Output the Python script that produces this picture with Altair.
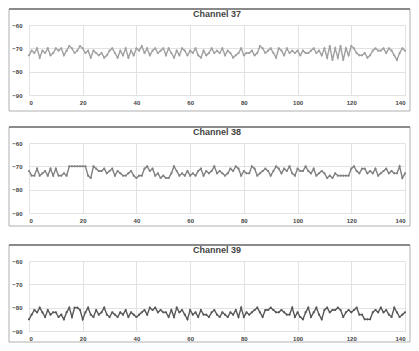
import altair as alt
import pandas as pd

x_vals = list(range(141))

ch37 = [
    -73, -71, -72, -70, -74, -71, -72, -70, -73, -72,
    -70, -71, -70, -73, -71, -69, -70, -72, -71, -69,
    -70, -72, -71, -74, -71, -72, -73, -72, -74, -73,
    -71, -70, -72, -74, -71, -73, -70, -74, -71, -73,
    -70, -71, -69, -72, -70, -73, -71, -70, -72, -71,
    -70, -73, -70, -72, -74, -71, -73, -70, -71, -73,
    -71, -72, -70, -73, -74, -71, -73, -72, -70, -72,
    -71, -72, -70, -73, -71, -72, -74, -73, -72, -70,
    -73, -72, -72, -71, -73, -72, -69, -70, -72, -71,
    -70, -72, -74, -70, -71, -73, -70, -72, -71, -72,
    -71, -73, -71, -72, -72, -71, -70, -72, -71, -73,
    -70, -74, -69, -75, -70, -74, -69, -75, -70, -73,
    -69, -70, -72, -73, -73, -72, -74, -73, -71, -70,
    -71, -71, -70, -72, -70, -71, -73, -75, -72, -70,
    -71]

ch38 = [
    -72, -74, -74, -71, -74, -73, -72, -74, -71, -74,
    -71, -74, -74, -73, -74, -70, -70, -70, -70, -70,
    -70, -70, -74, -75, -70, -71, -72, -72, -71, -73,
    -72, -71, -74, -72, -73, -74, -74, -73, -72, -74,
    -75, -74, -74, -71, -70, -72, -71, -74, -73, -75,
    -74, -75, -75, -73, -70, -72, -74, -73, -74, -72,
    -74, -73, -74, -72, -71, -74, -72, -73, -72, -70,
    -73, -72, -73, -74, -73, -71, -72, -70, -71, -74,
    -72, -73, -73, -70, -71, -74, -73, -72, -71, -72,
    -74, -72, -70, -71, -73, -71, -72, -70, -73, -74,
    -71, -72, -72, -70, -72, -73, -71, -74, -73, -72,
    -73, -75, -74, -75, -73, -74, -74, -74, -74, -74,
    -71, -70, -72, -73, -71, -71, -73, -72, -73, -71,
    -74, -73, -72, -71, -73, -72, -73, -73, -70, -75,
    -73]

ch39 = [
    -85, -83, -81, -82, -80, -82, -84, -81, -83, -82,
    -82, -84, -83, -85, -82, -80, -84, -80, -80, -81,
    -85, -82, -80, -83, -84, -81, -83, -82, -80, -83,
    -84, -82, -83, -84, -82, -83, -81, -84, -82, -83,
    -84, -83, -82, -81, -83, -80, -81, -80, -82, -81,
    -82, -82, -84, -81, -84, -80, -82, -81, -83, -85,
    -81, -83, -82, -84, -81, -83, -83, -84, -82, -81,
    -83, -84, -82, -83, -84, -82, -83, -81, -84, -80,
    -84, -82, -83, -82, -81, -80, -82, -84, -81, -81,
    -80, -81, -82, -82, -81, -82, -83, -83, -80, -84,
    -82, -84, -85, -82, -80, -84, -82, -80, -83, -85,
    -81, -80, -82, -81, -81, -80, -81, -84, -82, -81,
    -82, -81, -80, -83, -83, -85, -85, -85, -82, -81,
    -82, -80, -82, -81, -83, -84, -80, -82, -84, -83,
    -82]

titles = ["Channel 37", "Channel 38", "Channel 39"]
series = [ch37, ch38, ch39]
x_ticks = [0, 20, 40, 60, 80, 100, 120, 140]
y_ticks = [-90, -80, -70, -60]
colors = ["#a0a0a0", "#808080", "#585858"]

W = 376
H = 70


def panel(title, values, color, frame_bottom):
    df = pd.DataFrame({"x": x_vals, "dbm": values})
    fdf = pd.DataFrame({"f": [0]})
    frame = alt.Chart(fdf).mark_rect(filled=False, stroke="#b0b0b0", strokeWidth=1).encode(
        x=alt.value(-20), x2=alt.value(W + 5), y=alt.value(-16), y2=alt.value(H + frame_bottom)
    )
    top = alt.Chart(fdf).mark_rule(color="#8a8a8a", strokeWidth=2).encode(
        x=alt.value(-20), x2=alt.value(W + 5), y=alt.value(-16)
    )
    line = alt.Chart(df).mark_line(
        color=color, strokeWidth=1.4,
        point=alt.OverlayMarkDef(filled=True, size=5, color=color),
    ).encode(
        x=alt.X("x:Q", scale=alt.Scale(domain=[0, 140], nice=False),
                axis=alt.Axis(values=x_ticks, title=None)),
        y=alt.Y("dbm:Q", scale=alt.Scale(domain=[-90, -60], nice=False),
                axis=alt.Axis(values=y_ticks, title=None)),
    )
    return alt.layer(frame, top, line).properties(
        width=W, height=H,
        title=alt.TitleParams(title, fontSize=9, fontWeight="bold", color="#444",
                              font="Liberation Sans", offset=-11, anchor="middle"),
    )


chart = alt.vconcat(
    panel(titles[0], series[0], colors[0], 16),
    panel(titles[1], series[1], colors[1], 13),
    panel(titles[2], series[2], colors[2], 11),
    spacing=48, bounds="flush",
).properties(
    padding={"left": 0, "top": 0, "right": 0, "bottom": 0},
    background="white",
).configure_view(
    stroke=None
).configure_axis(
    grid=True, gridColor="#e2e2e2", gridWidth=1, domain=False, ticks=False,
    labelFontSize=6, labelFont="Liberation Sans", labelFontWeight="bold",
    labelColor="#444",
).configure_axisY(
    labelPadding=7
).configure_axisX(
    labelPadding=4
)

chart.save("out.html", embed_options={"renderer": "svg", "actions": False})
